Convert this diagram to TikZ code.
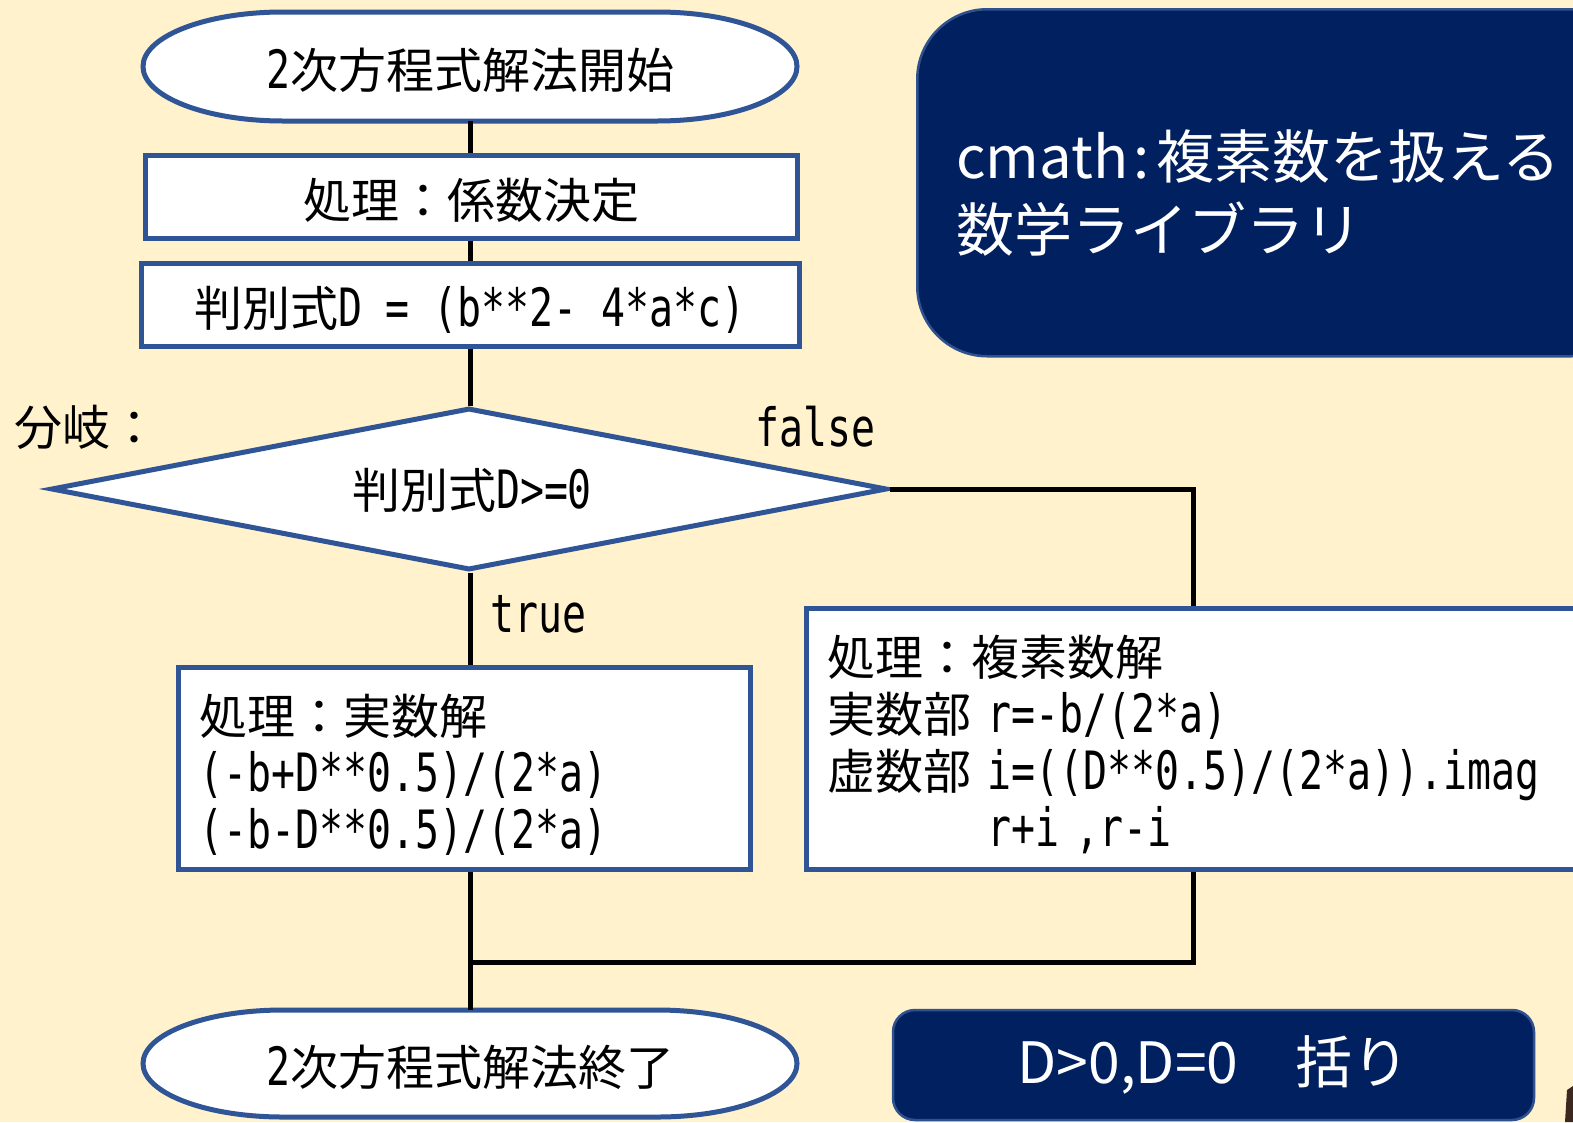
\documentclass[tikz,border=0pt]{standalone}
\usepackage{fontspec}
\setmainfont{Noto Sans CJK JP}
\newfontfamily\monofnt[Scale=1.1,FakeStretch=0.755]{DejaVu Sans Mono}
\newcommand\A[1]{{\monofnt #1}}
\usetikzlibrary{shapes.geometric}
\definecolor{bg}{RGB}{255,242,204}
\definecolor{navy}{RGB}{0,32,96}
\definecolor{bblue}{RGB}{47,85,151}
\definecolor{navyedge}{RGB}{47,82,143}
\definecolor{frag}{RGB}{60,40,30}
\begin{document}
\begin{tikzpicture}[x=1pt,y=1pt,
  bd/.style={draw=bblue,line width=5pt,fill=white},
  conn/.style={draw=black,line width=5pt},
  fnt/.style={font=\fontsize{48}{57}\selectfont},
  oneline/.style={text height=46pt,text depth=2pt},
  pbox/.style={bd,rectangle,inner sep=0pt,fnt},
  lbl/.style={fnt,inner sep=0pt,anchor=west},
  navybox/.style={fill=navy,draw=navyedge,line width=2.5pt,text=white},
]
\path[use as bounding box] (0,0) rectangle (1573,-1122);
\begin{scope}
\clip (0,0) rectangle (1573,-1122);
\fill[bg] (0,0) rectangle (1573,-1122);

% start terminator
\draw[bd] (283,-12) -- (657,-12) arc[start angle=90,end angle=-90,x radius=140,y radius=54.5]
  -- (283,-121) arc[start angle=270,end angle=90,x radius=140,y radius=54.5] -- cycle;
\node[fnt,oneline,minimum width=654,minimum height=109,inner sep=0pt] (start) at (470,-66.5) {\A{2}次方程式解法開始};

% process boxes
\node[pbox,oneline,minimum width=652,minimum height=83] (coef) at (471,-196.5) {処理：係数決定};
\node[pbox,oneline,minimum width=658,minimum height=83] (disc) at (470,-304.5) {判別式\A{D = (b**2- 4*a*c)}};

% decision
\node[bd,diamond,aspect=5.17,inner sep=0pt,minimum width=836,minimum height=162,fnt,text height=42pt,text depth=4pt] (dec) at (469,-489) {\hspace*{6pt}判別式\A{D>=0}};
\node[lbl] (brl) at (14,-427) {分岐：};
\node[lbl] (fl) at (755,-427) {\A{false}};
\node[lbl] (tl) at (490,-614) {\A{true}};

% real solution
\node[pbox,anchor=north west,minimum width=572,minimum height=202,text width=530,inner xsep=21pt,align=left] (real) at (176,-665)
  {\rule{0pt}{52pt}処理：実数解\\\A{(-b+D**0.5)/(2*a)}\\\A{(-b-D**0.5)/(2*a)}};

% complex solution
\node[pbox,anchor=north west,minimum width=860,minimum height=261,text width=818,inner xsep=21pt,align=left] (cplx) at (804,-606)
  {\rule{0pt}{52pt}処理：複素数解\\実数部\A{ r=-b/(2*a)}\\虚数部\A{ i=((D**0.5)/(2*a)).imag}\\\phantom{虚数部}\A{ r+i ,r-i}};

% end terminator
\draw[bd] (283,-1010) -- (657,-1010) arc[start angle=90,end angle=-90,x radius=140,y radius=53.5]
  -- (283,-1117) arc[start angle=270,end angle=90,x radius=140,y radius=53.5] -- cycle;
\node[fnt,oneline,minimum width=654,minimum height=107,inner sep=0pt] (stop) at (470,-1063.5) {\A{2}次方程式解法終了};

% connectors
\coordinate (axis) at (470,0);
\coordinate (fc) at (1193,-489);
\coordinate (jn) at (1193,-962);
\draw[conn] (start.south -| axis) -- (axis |- coef.north);
\draw[conn] (coef.south -| axis) -- (axis |- disc.north);
\draw[conn] (disc.south -| axis) -- (axis |- dec.north);
\draw[conn] (dec.south -| axis) -- (axis |- real.north);
\draw[conn] (dec.east) -- (fc) -- (fc |- cplx.north);
\draw[conn] (fc |- cplx.south) -- (jn) -- (jn -| axis);
\draw[conn] (real.south -| axis) -- (axis |- stop.north);

% navy notes
\node[navybox,rounded corners=70pt,anchor=north west,minimum width=724,minimum height=347,text width=646,inner xsep=39pt,align=left,font=\fontsize{58}{73}\selectfont] (lib) at (916,-8)
  {\rule{0pt}{69pt}cmath\hspace{5pt}:\hspace{7pt}複素数を扱える\\数学ライブラリ};
\node[navybox,rounded corners=22pt,minimum width=641,minimum height=110,inner sep=0pt,font=\fontsize{57}{68}\selectfont] (grp) at (1213.5,-1065) {D>0,D=0　括り};

\fill[frag] (1567,-1090) -- (1573,-1086) -- (1573,-1122) -- (1565,-1122) -- cycle;
\end{scope}
\end{tikzpicture}
\end{document}
